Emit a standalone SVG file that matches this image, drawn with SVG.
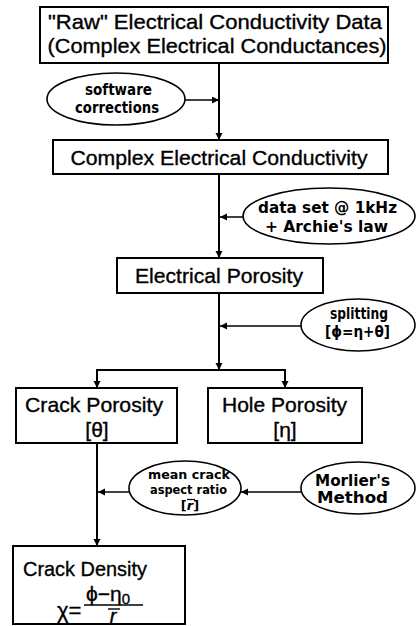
<svg xmlns="http://www.w3.org/2000/svg" width="416" height="626" viewBox="0 0 416 626">
<defs>
<marker id="ah" markerUnits="userSpaceOnUse" markerWidth="8" markerHeight="8" refX="7" refY="3.5" orient="auto">
<path d="M0,0 L7,3.5 L0,7 z" fill="#000"/>
</marker>
<style>
.box{fill:#fff;stroke:#000;stroke-width:2}
.ell{fill:#fff;stroke:#000;stroke-width:1.6}
.bt{font-family:"Liberation Sans",Arial,sans-serif;font-size:21px;fill:#000;stroke:#000;stroke-width:0.35;text-anchor:middle}
.et{font-family:"DejaVu Sans",sans-serif;font-weight:bold;font-size:15px;fill:#000;text-anchor:middle}
.ln{stroke:#000;stroke-width:2;fill:none}
.lt{stroke:#000;stroke-width:1.5;fill:none}
</style>
</defs>
<rect width="416" height="626" fill="#fff"/>
<g id="connectors">
<line class="ln" x1="219" y1="63" x2="219" y2="140" marker-end="url(#ah)"/>
<line class="lt" x1="185" y1="100" x2="219" y2="100" marker-end="url(#ah)"/>
<line class="ln" x1="219" y1="174" x2="219" y2="258" marker-end="url(#ah)"/>
<line class="lt" x1="243" y1="217" x2="220" y2="217" marker-end="url(#ah)"/>
<line class="ln" x1="219" y1="293" x2="219" y2="370" marker-end="url(#ah)"/>
<line class="lt" x1="301" y1="326" x2="220" y2="326" marker-end="url(#ah)"/>
<polyline class="ln" points="97,388 97,370 285,370 285,388"/>
<line class="ln" x1="97" y1="370" x2="97" y2="388" marker-end="url(#ah)"/>
<line class="ln" x1="285" y1="370" x2="285" y2="388" marker-end="url(#ah)"/>
<line class="ln" x1="97" y1="443" x2="97" y2="546" marker-end="url(#ah)"/>
<line class="lt" x1="129" y1="492" x2="98" y2="492" marker-end="url(#ah)"/>
<line class="lt" x1="301" y1="492" x2="241" y2="492" marker-end="url(#ah)"/>
</g>
<g id="raw">
<rect class="box" x="40" y="7" width="348" height="56"/>
<text class="bt" x="215" y="29" textLength="334" lengthAdjust="spacingAndGlyphs">"Raw" Electrical Conductivity Data</text>
<text class="bt" x="217" y="53" textLength="339" lengthAdjust="spacingAndGlyphs">(Complex Electrical Conductances)</text>
</g>
<g id="software">
<ellipse class="ell" cx="116" cy="99" rx="69" ry="26"/>
<text class="et" x="118.5" y="95" style="font-size:15px" textLength="67" lengthAdjust="spacingAndGlyphs">software</text>
<text class="et" x="117" y="113" style="font-size:15px" textLength="84" lengthAdjust="spacingAndGlyphs">corrections</text>
</g>
<g id="complex">
<rect class="box" x="53" y="140" width="335" height="34"/>
<text class="bt" x="219" y="165" textLength="297" lengthAdjust="spacingAndGlyphs">Complex Electrical Conductivity</text>
</g>
<g id="dataset">
<ellipse class="ell" cx="329" cy="216" rx="86" ry="28"/>
<text class="et" x="327.5" y="213" style="font-size:16px" textLength="139" lengthAdjust="spacingAndGlyphs">data set @ 1kHz</text>
<text class="et" x="326.5" y="232" style="font-size:16px" textLength="123" lengthAdjust="spacingAndGlyphs">+ Archie's law</text>
</g>
<g id="porosity">
<rect class="box" x="117" y="258" width="206" height="35"/>
<text class="bt" x="219" y="283" textLength="168" lengthAdjust="spacingAndGlyphs">Electrical Porosity</text>
</g>
<g id="splitting">
<ellipse class="ell" cx="358" cy="325" rx="57" ry="26"/>
<text class="et" x="359" y="319" textLength="58" lengthAdjust="spacingAndGlyphs">splitting</text>
<text class="et" x="357.5" y="337" textLength="65" lengthAdjust="spacingAndGlyphs">[ϕ=η+θ]</text>
</g>
<g id="crack">
<rect class="box" x="16" y="388" width="161" height="55"/>
<text class="bt" x="94" y="412" textLength="138" lengthAdjust="spacingAndGlyphs">Crack Porosity</text>
<text class="bt" x="97" y="437">[θ]</text>
</g>
<g id="hole">
<rect class="box" x="208" y="388" width="154" height="55"/>
<text class="bt" x="284.5" y="412" textLength="125" lengthAdjust="spacingAndGlyphs">Hole Porosity</text>
<text class="bt" x="285" y="437">[η]</text>
</g>
<g id="meancrack">
<ellipse class="ell" cx="185" cy="488" rx="56" ry="27"/>
<text class="et" x="189" y="479" style="font-size:13px" textLength="82" lengthAdjust="spacingAndGlyphs">mean crack</text>
<text class="et" x="188.5" y="494" style="font-size:13px" textLength="77" lengthAdjust="spacingAndGlyphs">aspect ratio</text>
<text class="et" x="190" y="510" style="font-size:13px">[<tspan style="font-style:italic">r</tspan>]</text>
<line x1="187" y1="499.5" x2="195" y2="499.5" stroke="#000" stroke-width="1.2"/>
</g>
<g id="morlier">
<ellipse class="ell" cx="358" cy="488" rx="57" ry="26"/>
<text class="et" x="352.5" y="486" style="font-size:15px" textLength="75" lengthAdjust="spacingAndGlyphs">Morlier's</text>
<text class="et" x="352.5" y="503" style="font-size:15px" textLength="71" lengthAdjust="spacingAndGlyphs">Method</text>
</g>
<g id="density">
<rect class="box" x="13" y="546" width="172" height="78"/>
<text class="bt" x="85" y="576" textLength="124" lengthAdjust="spacingAndGlyphs">Crack Density</text>
<text class="bt" x="57" y="618" style="font-size:22px;text-anchor:start">χ=</text>
<text class="bt" x="86" y="601" style="font-size:21px;text-anchor:start">ϕ−η<tspan dy="3" style="font-size:15px">0</tspan></text>
<line x1="84" y1="605" x2="143" y2="605" stroke="#000" stroke-width="1.6"/>
<text class="bt" x="113" y="623" style="font-size:20px;font-style:italic">r</text>
<line x1="108" y1="609" x2="120" y2="609" stroke="#000" stroke-width="1.4"/>
</g>
</svg>
